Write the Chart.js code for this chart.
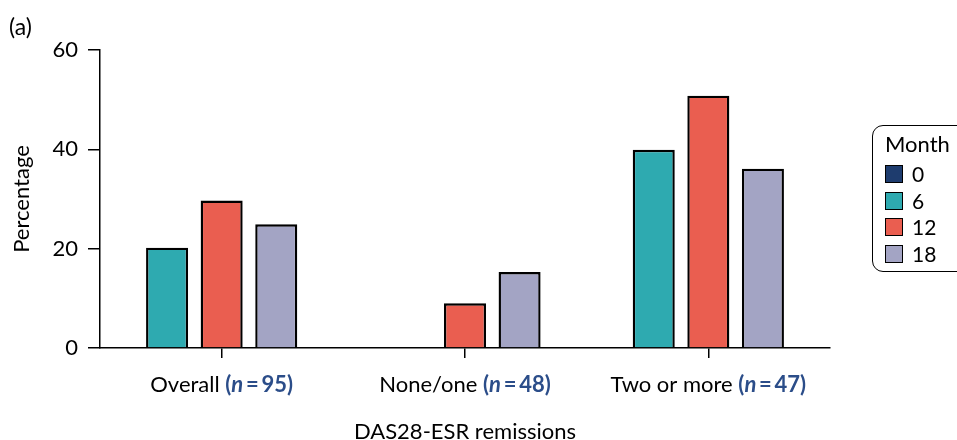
<!DOCTYPE html>
<html>
<head>
<meta charset="utf-8">
<script src="https://cdn.jsdelivr.net/npm/chart.js@4/dist/chart.umd.min.js"></script>
<style>
html,body{margin:0;padding:0;background:#fff;}
#wrap{position:relative;width:957px;height:440px;overflow:hidden;font-family:Lato,"DejaVu Sans",sans-serif;color:#000;}
#panel{position:absolute;left:9px;top:13px;font-size:23px;line-height:26px;}
#legend{position:absolute;left:872px;top:125px;width:120px;height:147px;border:1.5px solid #000;border-radius:11px;box-sizing:border-box;}
#legend .ttl{position:absolute;left:12px;top:5px;font-size:22px;line-height:26px;}
#legend .it{position:absolute;left:12px;height:22px;font-size:21px;line-height:22px;}
#legend .bx{position:absolute;left:0;top:2px;width:18px;height:18px;box-sizing:border-box;border:1.6px solid #000;}
#legend .lb{position:absolute;left:27px;top:0;}
</style>
</head>
<body>
<div id="wrap">
<canvas id="c" width="957" height="440"></canvas>
<div id="panel">(a)</div>
<div id="legend"></div>
</div>
<script>
// ---- data ----
const categories = ['Overall', 'None/one', 'Two or more'];
const nValues = [95, 48, 47];
const months = ['0', '6', '12', '18'];
const month0 = [null, null, null];
const month6 = [20.2, 0, 39.9];
const month12 = [29.7, 9.0, 50.8];
const month18 = [24.9, 15.3, 36.1];
const yTicks = [0, 20, 40, 60];
const yTitle = 'Percentage';
const xTitle = 'DAS28-ESR remissions';
const legendTitle = 'Month';

const colors = ['#1e3c6e', '#2eaab0', '#ea5e50', '#a3a4c4'];
const seriesData = [month0, month6, month12, month18];

// ---- legend (HTML) ----
const leg = document.getElementById('legend');
let html = '<div class="ttl">' + legendTitle + '</div>';
months.forEach((m, i) => {
  const top = 37 + i * 26.6;
  html += '<div class="it" style="top:' + top + 'px"><div class="bx" style="background:' + colors[i] + '"></div><div class="lb">' + m + '</div></div>';
});
leg.innerHTML = html;

const fam = 'Lato, "DejaVu Sans", sans-serif';
// ---- rich x tick labels + x title ----
const richLabels = {
  id: 'richLabels',
  afterDraw(chart) {
    const ctx = chart.ctx, xs = chart.scales.x;
    ctx.save();
    ctx.textBaseline = 'middle';
    ctx.textAlign = 'left';
    const fN = '22px ' + fam;
    const fB = 'bold 22px ' + fam;
    const fBI = 'italic bold 22px ' + fam;
    categories.forEach((c, i) => {
      const parts = [
        {t: c + ' ', f: fN, col: '#000'},
        {t: '(', f: fB, col: '#2b4d89'},
        {t: 'n', f: fBI, col: '#2b4d89'},
        {t: '\u2009=\u2009' + nValues[i] + ')', f: fB, col: '#2b4d89'}
      ];
      let w = 0;
      parts.forEach(p => { ctx.font = p.f; p.w = ctx.measureText(p.t).width; w += p.w; });
      let x = xs.getPixelForTick(i) - w / 2;
      const y = xs.top + 37;
      parts.forEach(p => { ctx.font = p.f; ctx.fillStyle = p.col; ctx.fillText(p.t, x, y); x += p.w; });
    });
    ctx.font = '22px ' + fam;
    ctx.fillStyle = '#000';
    ctx.textAlign = 'center';
    ctx.fillText(xTitle, (chart.chartArea.left + chart.chartArea.right) / 2, xs.top + 84);
    ctx.restore();
  }
};

new Chart(document.getElementById('c'), {
  type: 'bar',
  data: {
    labels: categories,
    datasets: months.map((m, i) => ({
      label: m,
      data: seriesData[i],
      backgroundColor: colors[i],
      borderColor: '#000',
      borderWidth: 2.4,
      borderSkipped: 'start'
    }))
  },
  options: {
    responsive: false,
    animation: false,
    skipNull: true,
    categoryPercentage: 0.673,
    barPercentage: 0.77,
    layout: {padding: {left: 0, right: 127, top: 50, bottom: 0}},
    plugins: {legend: {display: false}, tooltip: {enabled: false}},
    scales: {
      x: {
        offset: true,
        grid: {display: true, drawOnChartArea: false, drawTicks: true, tickLength: 10, color: '#000', lineWidth: 1.5, offset: false},
        border: {display: true, color: '#000', width: 1.5},
        ticks: {color: 'rgba(0,0,0,0)', font: {family: 'Lato', size: 22}},
        title: {display: false, text: xTitle},
        afterFit(s) { s.height = 92; }
      },
      y: {
        min: 0, max: 60,
        afterBuildTicks(s) { s.ticks = yTicks.map(v => ({value: v})); },
        grid: {display: true, drawOnChartArea: false, drawTicks: true, tickLength: 12, color: '#000', lineWidth: 1.5},
        border: {display: true, color: '#000', width: 1.5},
        ticks: {color: '#000', padding: 10, font: {family: 'Lato', size: 22}},
        title: {display: true, text: yTitle, color: '#000', font: {family: 'Lato', size: 22}, padding: {top: 9, bottom: 0}},
        afterFit(s) { s.width = 100; }
      }
    }
  },
  plugins: [richLabels]
});
</script>
</body>
</html>
